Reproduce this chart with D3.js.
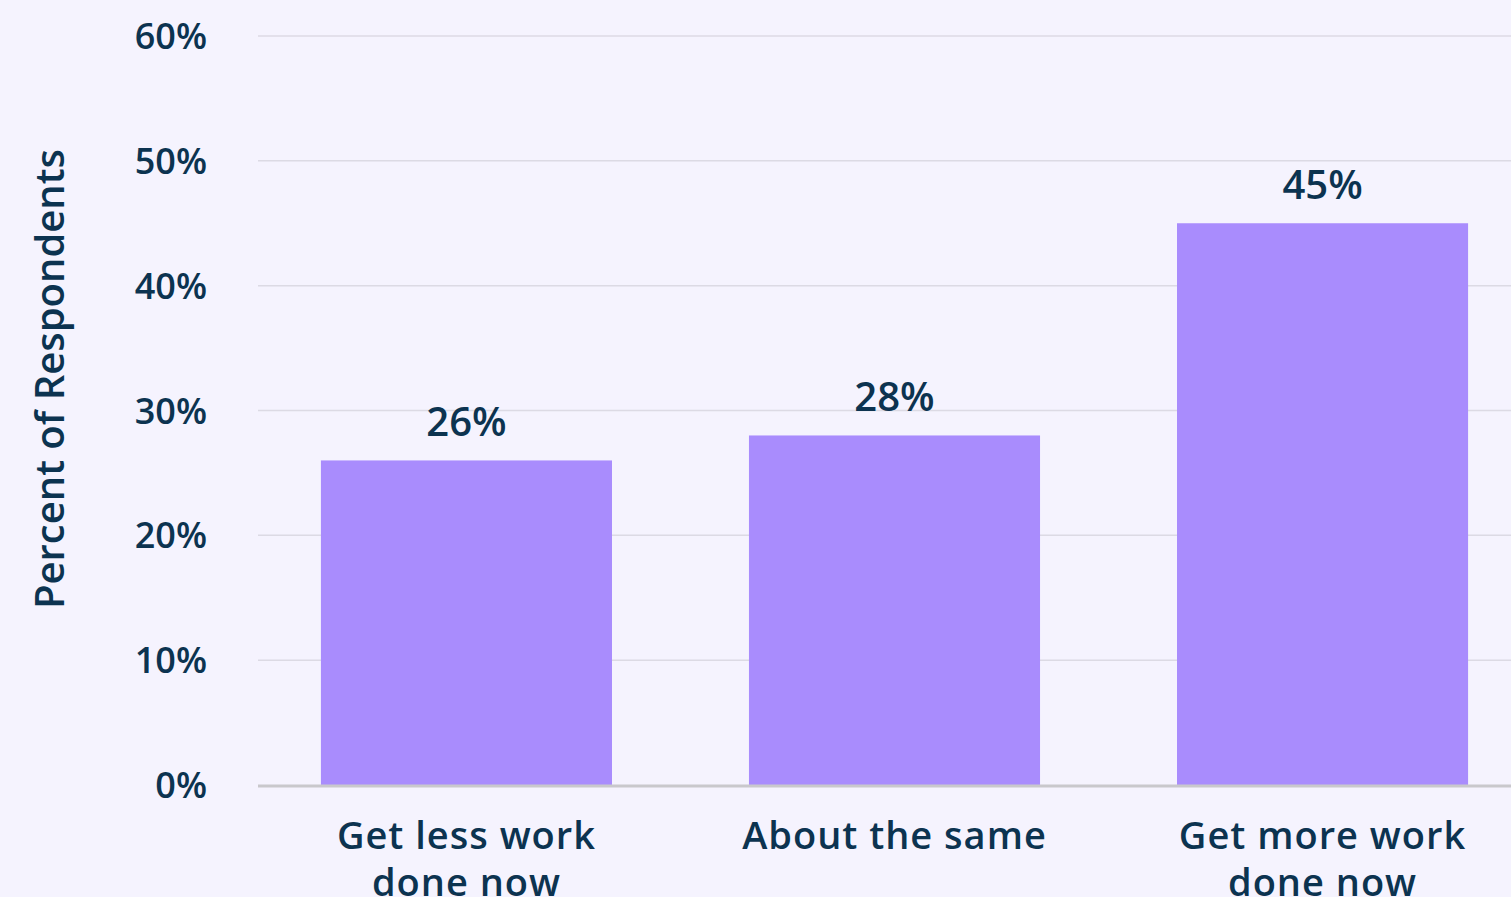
<!DOCTYPE html>
<html>
<head>
<meta charset="utf-8">
<script src="https://cdn.jsdelivr.net/npm/d3@7"></script>
<style>
  html, body { margin: 0; padding: 0; background: #f5f3fe; overflow: hidden; }
  svg { display: block; }
  text { font-family: "Open Sans", "Noto Sans", sans-serif; font-weight: 600; fill: #0c3350; }
</style>
</head>
<body>
<svg id="chart" width="1511" height="897"></svg>
<script>
const categories = [["Get less work", "done now"], ["About the same"], ["Get more work", "done now"]];
const values = [26, 28, 45];
const yTicks = [0, 10, 20, 30, 40, 50, 60];
const yTitle = "Percent of Respondents";

const W = 1511, H = 897;
const svg = d3.select("#chart");
svg.append("rect").attr("width", W).attr("height", H).attr("fill", "#f5f3fe");

const x0 = 258, x1 = 1531;
const yTop = 36, yBase = 785;

const x = d3.scaleBand()
  .domain(categories.map((d, i) => i))
  .range([x0, x1])
  .paddingInner(0.32)
  .paddingOuter(0.147);

const y = d3.scaleLinear().domain([0, 60]).range([yBase, yTop]);

// gridlines
svg.append("g").selectAll("line")
  .data(yTicks.filter(t => t > 0))
  .join("line")
  .attr("x1", x0).attr("x2", x1)
  .attr("y1", d => y(d)).attr("y2", d => y(d))
  .attr("stroke", "#dcdae4").attr("stroke-width", 1.5);

// y tick labels
const yAxis = d3.axisLeft(y).tickValues(yTicks).tickFormat(d => d + "%").tickSize(0).tickPadding(0);
const ya = svg.append("g").attr("transform", "translate(207,0)").call(yAxis);
ya.select(".domain").remove();
ya.selectAll("text")
  .attr("font-size", 36).attr("font-family", null).attr("fill", null)
  .attr("dy", "0.35em");

// bars
svg.append("g").selectAll("rect")
  .data(values)
  .join("rect")
  .attr("x", (d, i) => x(i))
  .attr("width", x.bandwidth())
  .attr("y", d => y(d))
  .attr("height", d => yBase - y(d))
  .attr("fill", "#a98cfd");

// baseline
svg.append("line")
  .attr("x1", x0).attr("x2", x1)
  .attr("y1", yBase + 1).attr("y2", yBase + 1)
  .attr("stroke", "#c9c8cc").attr("stroke-width", 3);

// value labels
svg.append("g").selectAll("text")
  .data(values)
  .join("text")
  .attr("x", (d, i) => x(i) + x.bandwidth() / 2)
  .attr("y", d => y(d) - 24)
  .attr("text-anchor", "middle")
  .attr("font-size", 40)
  .text(d => d + "%");

// category labels
const cat = svg.append("g").selectAll("text")
  .data(categories)
  .join("text")
  .attr("x", (d, i) => x(i) + x.bandwidth() / 2)
  .attr("y", 849)
  .attr("text-anchor", "middle")
  .attr("font-size", 38)
  .attr("letter-spacing", 1);
cat.selectAll("tspan")
  .data(d => d)
  .join("tspan")
  .attr("x", function() { return d3.select(this.parentNode).attr("x"); })
  .attr("dy", (d, i) => i === 0 ? 0 : 47)
  .text(d => d);

// y title
svg.append("text")
  .attr("transform", "translate(64,379) rotate(-90)")
  .attr("text-anchor", "middle")
  .attr("font-size", 40)
  .text(yTitle);
</script>
</body>
</html>
